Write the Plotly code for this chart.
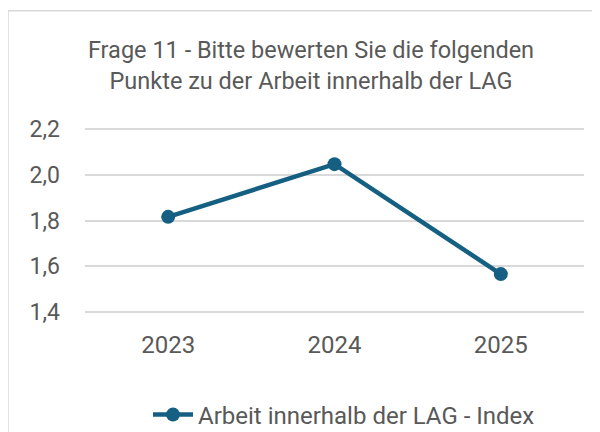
import plotly.graph_objects as go

years = ["2023", "2024", "2025"]
index_values = [1.816, 2.047, 1.565]
series_name = "Arbeit innerhalb der LAG - Index"
y_ticks = [1.4, 1.6, 1.8, 2.0, 2.2]
y_tick_labels = ["1,4", "1,6", "1,8", "2,0", "2,2"]
title_text = "Frage 11 - Bitte bewerten Sie die folgenden<br>Punkte zu der Arbeit innerhalb der LAG"

LINE = "#156082"
TEXT = "#595959"
GRID = "#d9d9d9"
FONT = "Roboto, 'Open Sans', sans-serif"

# page body has an 8px margin; compensate by shifting everything up/left by 8px
OFF = 8
W, H = 600, 432
PX_PER_UNIT = 182.7 / 0.8
PAD = 0.01
PL, PR = 85 - OFF, 584 - OFF
PT = 129 - OFF - PAD * PX_PER_UNIT
PB = 312 - OFF + PAD * PX_PER_UNIT

fig = go.Figure()
fig.add_trace(go.Scatter(
    x=years, y=index_values, mode="lines+markers", name=series_name,
    line=dict(color=LINE, width=4.5),
    marker=dict(color=LINE, size=14),
))

pw, ph = PR - PL, PB - PT

fig.update_layout(
    width=W, height=H,
    margin=dict(l=PL, r=W - PR, t=PT, b=H - PB, autoexpand=False),
    paper_bgcolor="white", plot_bgcolor="white",
    font=dict(family=FONT, color=TEXT, size=23),
    title=dict(text=title_text, x=(311 - OFF) / W, xanchor="center",
               y=1 - (58 - OFF) / H, yanchor="middle",
               font=dict(size=23.5, color=TEXT, family=FONT)),
    showlegend=True,
    legend=dict(orientation="h", x=(344 - OFF) / W, xref="container", xanchor="center",
                y=1 - (415 - OFF) / H, yref="container", yanchor="middle",
                font=dict(size=24, color=TEXT, family=FONT),
                bgcolor="rgba(0,0,0,0)", itemwidth=40),
    xaxis=dict(type="category", range=[-0.5, 2.5], showgrid=False,
               showline=False, zeroline=False, ticks="",
               tickfont=dict(size=24, color=TEXT), ticklabelstandoff=14),
    yaxis=dict(range=[1.4 - PAD, 2.2 + PAD], tickvals=y_ticks, ticktext=y_tick_labels,
               showgrid=True, gridcolor=GRID, gridwidth=1.5, zeroline=False,
               showline=False, ticks="", tickfont=dict(size=23, color=TEXT),
               ticklabelstandoff=24),
    shapes=[dict(type="rect", xref="paper", yref="paper",
                 x0=(8 - OFF - PL) / pw, x1=(620 - PL) / pw,
                 y0=(PB - 470) / ph, y1=(PB - (10 - OFF)) / ph,
                 line=dict(color=GRID, width=1.5), fillcolor="rgba(0,0,0,0)",
                 layer="below")],
)

fig.write_html("out.html")
